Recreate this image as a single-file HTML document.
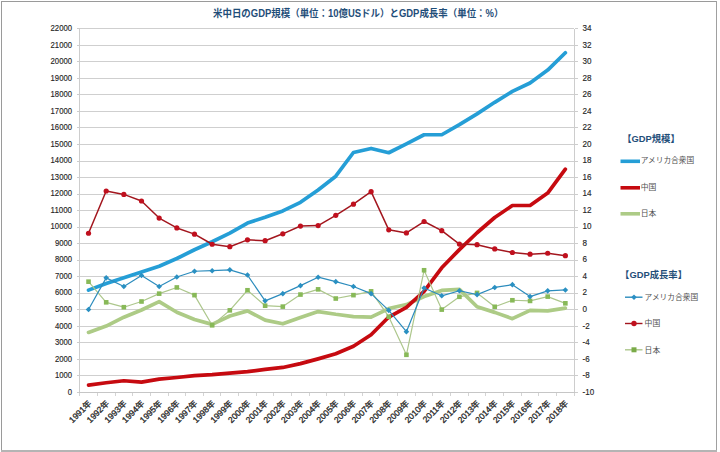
<!DOCTYPE html>
<html lang="ja"><head><meta charset="utf-8"><title>米中日のGDP規模とGDP成長率</title>
<style>html,body{margin:0;padding:0;background:#fff;}body{width:720px;height:452px;overflow:hidden;}svg{display:block;}text{font-family:"Liberation Sans", "Noto Sans CJK JP", sans-serif;}</style></head><body>
<svg width="720" height="452" viewBox="0 0 720 452">
<rect x="0" y="0" width="720" height="452" fill="#fff"/>
<g shape-rendering="crispEdges">
<rect x="1" y="1" width="716" height="1" fill="#9a9a9a"/>
<rect x="1" y="1" width="1" height="450" fill="#9a9a9a"/>
<rect x="716" y="1" width="1" height="450" fill="#a0a0a0"/>
<rect x="1" y="450" width="716" height="2" fill="#b4b4b4"/>
</g>
<text x="358.2" y="17.4" text-anchor="middle" font-size="10" font-weight="bold" fill="#1f4e79" textLength="290.4" lengthAdjust="spacingAndGlyphs">米中日のGDP規模（単位：10億USドル）とGDP成長率（単位：%）</text>
<g stroke="#cfcfcf" stroke-width="1" shape-rendering="crispEdges">
<line x1="79.7" y1="375.5" x2="574.2" y2="375.5"/>
<line x1="79.7" y1="359.5" x2="574.2" y2="359.5"/>
<line x1="79.7" y1="342.5" x2="574.2" y2="342.5"/>
<line x1="79.7" y1="326.5" x2="574.2" y2="326.5"/>
<line x1="79.7" y1="309.5" x2="574.2" y2="309.5"/>
<line x1="79.7" y1="293.5" x2="574.2" y2="293.5"/>
<line x1="79.7" y1="276.5" x2="574.2" y2="276.5"/>
<line x1="79.7" y1="260.5" x2="574.2" y2="260.5"/>
<line x1="79.7" y1="243.5" x2="574.2" y2="243.5"/>
<line x1="79.7" y1="227.5" x2="574.2" y2="227.5"/>
<line x1="79.7" y1="210.5" x2="574.2" y2="210.5"/>
<line x1="79.7" y1="194.5" x2="574.2" y2="194.5"/>
<line x1="79.7" y1="177.5" x2="574.2" y2="177.5"/>
<line x1="79.7" y1="161.5" x2="574.2" y2="161.5"/>
<line x1="79.7" y1="144.5" x2="574.2" y2="144.5"/>
<line x1="79.7" y1="127.5" x2="574.2" y2="127.5"/>
<line x1="79.7" y1="111.5" x2="574.2" y2="111.5"/>
<line x1="79.7" y1="94.5" x2="574.2" y2="94.5"/>
<line x1="79.7" y1="78.5" x2="574.2" y2="78.5"/>
<line x1="79.7" y1="61.5" x2="574.2" y2="61.5"/>
<line x1="79.7" y1="45.5" x2="574.2" y2="45.5"/>
<line x1="79.7" y1="28.5" x2="574.2" y2="28.5"/>
</g>
<g stroke="#cdcdcd" stroke-width="1" shape-rendering="crispEdges">
<line x1="79.5" y1="28.5" x2="79.5" y2="392.5"/>
<line x1="574.5" y1="28.5" x2="574.5" y2="392.5"/>
<line x1="76.5" y1="392.5" x2="79.5" y2="392.5"/>
<line x1="574.5" y1="392.5" x2="577.5" y2="392.5"/>
<line x1="76.5" y1="375.5" x2="79.5" y2="375.5"/>
<line x1="574.5" y1="375.5" x2="577.5" y2="375.5"/>
<line x1="76.5" y1="359.5" x2="79.5" y2="359.5"/>
<line x1="574.5" y1="359.5" x2="577.5" y2="359.5"/>
<line x1="76.5" y1="342.5" x2="79.5" y2="342.5"/>
<line x1="574.5" y1="342.5" x2="577.5" y2="342.5"/>
<line x1="76.5" y1="326.5" x2="79.5" y2="326.5"/>
<line x1="574.5" y1="326.5" x2="577.5" y2="326.5"/>
<line x1="76.5" y1="309.5" x2="79.5" y2="309.5"/>
<line x1="574.5" y1="309.5" x2="577.5" y2="309.5"/>
<line x1="76.5" y1="293.5" x2="79.5" y2="293.5"/>
<line x1="574.5" y1="293.5" x2="577.5" y2="293.5"/>
<line x1="76.5" y1="276.5" x2="79.5" y2="276.5"/>
<line x1="574.5" y1="276.5" x2="577.5" y2="276.5"/>
<line x1="76.5" y1="260.5" x2="79.5" y2="260.5"/>
<line x1="574.5" y1="260.5" x2="577.5" y2="260.5"/>
<line x1="76.5" y1="243.5" x2="79.5" y2="243.5"/>
<line x1="574.5" y1="243.5" x2="577.5" y2="243.5"/>
<line x1="76.5" y1="227.5" x2="79.5" y2="227.5"/>
<line x1="574.5" y1="227.5" x2="577.5" y2="227.5"/>
<line x1="76.5" y1="210.5" x2="79.5" y2="210.5"/>
<line x1="574.5" y1="210.5" x2="577.5" y2="210.5"/>
<line x1="76.5" y1="194.5" x2="79.5" y2="194.5"/>
<line x1="574.5" y1="194.5" x2="577.5" y2="194.5"/>
<line x1="76.5" y1="177.5" x2="79.5" y2="177.5"/>
<line x1="574.5" y1="177.5" x2="577.5" y2="177.5"/>
<line x1="76.5" y1="161.5" x2="79.5" y2="161.5"/>
<line x1="574.5" y1="161.5" x2="577.5" y2="161.5"/>
<line x1="76.5" y1="144.5" x2="79.5" y2="144.5"/>
<line x1="574.5" y1="144.5" x2="577.5" y2="144.5"/>
<line x1="76.5" y1="127.5" x2="79.5" y2="127.5"/>
<line x1="574.5" y1="127.5" x2="577.5" y2="127.5"/>
<line x1="76.5" y1="111.5" x2="79.5" y2="111.5"/>
<line x1="574.5" y1="111.5" x2="577.5" y2="111.5"/>
<line x1="76.5" y1="94.5" x2="79.5" y2="94.5"/>
<line x1="574.5" y1="94.5" x2="577.5" y2="94.5"/>
<line x1="76.5" y1="78.5" x2="79.5" y2="78.5"/>
<line x1="574.5" y1="78.5" x2="577.5" y2="78.5"/>
<line x1="76.5" y1="61.5" x2="79.5" y2="61.5"/>
<line x1="574.5" y1="61.5" x2="577.5" y2="61.5"/>
<line x1="76.5" y1="45.5" x2="79.5" y2="45.5"/>
<line x1="574.5" y1="45.5" x2="577.5" y2="45.5"/>
<line x1="76.5" y1="28.5" x2="79.5" y2="28.5"/>
<line x1="574.5" y1="28.5" x2="577.5" y2="28.5"/>
</g>
<g stroke="#c6c6c6" stroke-width="1" shape-rendering="crispEdges">
<line x1="79" y1="392.5" x2="575" y2="392.5"/>
</g><g stroke="#d4d4d4" stroke-width="1" shape-rendering="crispEdges">
<line x1="79.5" y1="393.0" x2="79.5" y2="395.5"/>
<line x1="97.5" y1="393.0" x2="97.5" y2="395.5"/>
<line x1="115.5" y1="393.0" x2="115.5" y2="395.5"/>
<line x1="132.5" y1="393.0" x2="132.5" y2="395.5"/>
<line x1="150.5" y1="393.0" x2="150.5" y2="395.5"/>
<line x1="168.5" y1="393.0" x2="168.5" y2="395.5"/>
<line x1="185.5" y1="393.0" x2="185.5" y2="395.5"/>
<line x1="203.5" y1="393.0" x2="203.5" y2="395.5"/>
<line x1="220.5" y1="393.0" x2="220.5" y2="395.5"/>
<line x1="238.5" y1="393.0" x2="238.5" y2="395.5"/>
<line x1="256.5" y1="393.0" x2="256.5" y2="395.5"/>
<line x1="273.5" y1="393.0" x2="273.5" y2="395.5"/>
<line x1="291.5" y1="393.0" x2="291.5" y2="395.5"/>
<line x1="309.5" y1="393.0" x2="309.5" y2="395.5"/>
<line x1="326.5" y1="393.0" x2="326.5" y2="395.5"/>
<line x1="344.5" y1="393.0" x2="344.5" y2="395.5"/>
<line x1="362.5" y1="393.0" x2="362.5" y2="395.5"/>
<line x1="379.5" y1="393.0" x2="379.5" y2="395.5"/>
<line x1="397.5" y1="393.0" x2="397.5" y2="395.5"/>
<line x1="415.5" y1="393.0" x2="415.5" y2="395.5"/>
<line x1="432.5" y1="393.0" x2="432.5" y2="395.5"/>
<line x1="450.5" y1="393.0" x2="450.5" y2="395.5"/>
<line x1="468.5" y1="393.0" x2="468.5" y2="395.5"/>
<line x1="485.5" y1="393.0" x2="485.5" y2="395.5"/>
<line x1="503.5" y1="393.0" x2="503.5" y2="395.5"/>
<line x1="521.5" y1="393.0" x2="521.5" y2="395.5"/>
<line x1="538.5" y1="393.0" x2="538.5" y2="395.5"/>
<line x1="556.5" y1="393.0" x2="556.5" y2="395.5"/>
<line x1="574.5" y1="393.0" x2="574.5" y2="395.5"/>
</g>
<g font-size="8.9" fill="#262626" stroke="#262626" stroke-width="0.15" text-anchor="end">
<text x="72" y="394.6" textLength="4.3" lengthAdjust="spacingAndGlyphs">0</text>
<text x="72" y="378.1" textLength="17.1" lengthAdjust="spacingAndGlyphs">1000</text>
<text x="72" y="361.5" textLength="17.1" lengthAdjust="spacingAndGlyphs">2000</text>
<text x="72" y="345.0" textLength="17.1" lengthAdjust="spacingAndGlyphs">3000</text>
<text x="72" y="328.5" textLength="17.1" lengthAdjust="spacingAndGlyphs">4000</text>
<text x="72" y="312.0" textLength="17.1" lengthAdjust="spacingAndGlyphs">5000</text>
<text x="72" y="295.4" textLength="17.1" lengthAdjust="spacingAndGlyphs">6000</text>
<text x="72" y="278.9" textLength="17.1" lengthAdjust="spacingAndGlyphs">7000</text>
<text x="72" y="262.4" textLength="17.1" lengthAdjust="spacingAndGlyphs">8000</text>
<text x="72" y="245.9" textLength="17.1" lengthAdjust="spacingAndGlyphs">9000</text>
<text x="72" y="229.3" textLength="21.4" lengthAdjust="spacingAndGlyphs">10000</text>
<text x="72" y="212.8" textLength="21.4" lengthAdjust="spacingAndGlyphs">11000</text>
<text x="72" y="196.3" textLength="21.4" lengthAdjust="spacingAndGlyphs">12000</text>
<text x="72" y="179.7" textLength="21.4" lengthAdjust="spacingAndGlyphs">13000</text>
<text x="72" y="163.2" textLength="21.4" lengthAdjust="spacingAndGlyphs">14000</text>
<text x="72" y="146.7" textLength="21.4" lengthAdjust="spacingAndGlyphs">15000</text>
<text x="72" y="130.2" textLength="21.4" lengthAdjust="spacingAndGlyphs">16000</text>
<text x="72" y="113.6" textLength="21.4" lengthAdjust="spacingAndGlyphs">17000</text>
<text x="72" y="97.1" textLength="21.4" lengthAdjust="spacingAndGlyphs">18000</text>
<text x="72" y="80.6" textLength="21.4" lengthAdjust="spacingAndGlyphs">19000</text>
<text x="72" y="64.1" textLength="21.4" lengthAdjust="spacingAndGlyphs">20000</text>
<text x="72" y="47.5" textLength="21.4" lengthAdjust="spacingAndGlyphs">21000</text>
<text x="72" y="31.0" textLength="21.4" lengthAdjust="spacingAndGlyphs">22000</text>
</g>
<g font-size="8.9" fill="#262626" stroke="#262626" stroke-width="0.15">
<text x="582.6" y="394.6" textLength="11.6" lengthAdjust="spacingAndGlyphs">-10</text>
<text x="582.6" y="378.1" textLength="7.1" lengthAdjust="spacingAndGlyphs">-8</text>
<text x="582.6" y="361.5" textLength="7.1" lengthAdjust="spacingAndGlyphs">-6</text>
<text x="582.6" y="345.0" textLength="7.1" lengthAdjust="spacingAndGlyphs">-4</text>
<text x="582.6" y="328.5" textLength="7.1" lengthAdjust="spacingAndGlyphs">-2</text>
<text x="582.6" y="312.0" textLength="4.5" lengthAdjust="spacingAndGlyphs">0</text>
<text x="582.6" y="295.4" textLength="4.5" lengthAdjust="spacingAndGlyphs">2</text>
<text x="582.6" y="278.9" textLength="4.5" lengthAdjust="spacingAndGlyphs">4</text>
<text x="582.6" y="262.4" textLength="4.5" lengthAdjust="spacingAndGlyphs">6</text>
<text x="582.6" y="245.9" textLength="4.5" lengthAdjust="spacingAndGlyphs">8</text>
<text x="582.6" y="229.3" textLength="9.0" lengthAdjust="spacingAndGlyphs">10</text>
<text x="582.6" y="212.8" textLength="9.0" lengthAdjust="spacingAndGlyphs">12</text>
<text x="582.6" y="196.3" textLength="9.0" lengthAdjust="spacingAndGlyphs">14</text>
<text x="582.6" y="179.7" textLength="9.0" lengthAdjust="spacingAndGlyphs">16</text>
<text x="582.6" y="163.2" textLength="9.0" lengthAdjust="spacingAndGlyphs">18</text>
<text x="582.6" y="146.7" textLength="9.0" lengthAdjust="spacingAndGlyphs">20</text>
<text x="582.6" y="130.2" textLength="9.0" lengthAdjust="spacingAndGlyphs">22</text>
<text x="582.6" y="113.6" textLength="9.0" lengthAdjust="spacingAndGlyphs">24</text>
<text x="582.6" y="97.1" textLength="9.0" lengthAdjust="spacingAndGlyphs">26</text>
<text x="582.6" y="80.6" textLength="9.0" lengthAdjust="spacingAndGlyphs">28</text>
<text x="582.6" y="64.1" textLength="9.0" lengthAdjust="spacingAndGlyphs">30</text>
<text x="582.6" y="47.5" textLength="9.0" lengthAdjust="spacingAndGlyphs">32</text>
<text x="582.6" y="31.0" textLength="9.0" lengthAdjust="spacingAndGlyphs">34</text>
</g>
<g font-size="8.5" fill="#262626" stroke="#262626" stroke-width="0.3" text-anchor="end">
<text x="92.0" y="404.0" transform="rotate(-45 92.0 404.0)">1991年</text>
<text x="109.7" y="404.0" transform="rotate(-45 109.7 404.0)">1992年</text>
<text x="127.4" y="404.0" transform="rotate(-45 127.4 404.0)">1993年</text>
<text x="145.0" y="404.0" transform="rotate(-45 145.0 404.0)">1994年</text>
<text x="162.7" y="404.0" transform="rotate(-45 162.7 404.0)">1995年</text>
<text x="180.3" y="404.0" transform="rotate(-45 180.3 404.0)">1996年</text>
<text x="198.0" y="404.0" transform="rotate(-45 198.0 404.0)">1997年</text>
<text x="215.7" y="404.0" transform="rotate(-45 215.7 404.0)">1998年</text>
<text x="233.3" y="404.0" transform="rotate(-45 233.3 404.0)">1999年</text>
<text x="251.0" y="404.0" transform="rotate(-45 251.0 404.0)">2000年</text>
<text x="268.6" y="404.0" transform="rotate(-45 268.6 404.0)">2001年</text>
<text x="286.3" y="404.0" transform="rotate(-45 286.3 404.0)">2002年</text>
<text x="304.0" y="404.0" transform="rotate(-45 304.0 404.0)">2003年</text>
<text x="321.6" y="404.0" transform="rotate(-45 321.6 404.0)">2004年</text>
<text x="339.3" y="404.0" transform="rotate(-45 339.3 404.0)">2005年</text>
<text x="356.9" y="404.0" transform="rotate(-45 356.9 404.0)">2006年</text>
<text x="374.6" y="404.0" transform="rotate(-45 374.6 404.0)">2007年</text>
<text x="392.3" y="404.0" transform="rotate(-45 392.3 404.0)">2008年</text>
<text x="409.9" y="404.0" transform="rotate(-45 409.9 404.0)">2009年</text>
<text x="427.6" y="404.0" transform="rotate(-45 427.6 404.0)">2010年</text>
<text x="445.2" y="404.0" transform="rotate(-45 445.2 404.0)">2011年</text>
<text x="462.9" y="404.0" transform="rotate(-45 462.9 404.0)">2012年</text>
<text x="480.6" y="404.0" transform="rotate(-45 480.6 404.0)">2013年</text>
<text x="498.2" y="404.0" transform="rotate(-45 498.2 404.0)">2014年</text>
<text x="515.9" y="404.0" transform="rotate(-45 515.9 404.0)">2015年</text>
<text x="533.5" y="404.0" transform="rotate(-45 533.5 404.0)">2016年</text>
<text x="551.2" y="404.0" transform="rotate(-45 551.2 404.0)">2017年</text>
<text x="568.9" y="404.0" transform="rotate(-45 568.9 404.0)">2018年</text>
</g>
<g fill="none" stroke-width="3.7" stroke-linejoin="round" stroke-linecap="round">
<polyline points="88.53,332.41 106.19,326.09 123.85,317.18 141.51,309.96 159.17,301.65 176.83,312.28 194.49,319.48 212.16,324.39 229.82,315.98 247.48,310.87 265.14,320.08 282.80,323.78 300.46,317.48 318.12,311.58 335.78,314.28 353.44,316.57 371.10,317.17 388.76,308.56 406.42,304.56 424.08,296.49 441.74,290.43 459.41,289.44 477.07,306.79 494.73,312.37 512.39,318.67 530.05,310.36 547.71,310.87 565.37,308.06" stroke="#adcb86"/>
<polyline points="88.53,385.09 106.19,382.78 123.85,380.78 141.51,382.19 159.17,379.08 176.83,377.53 194.49,375.71 212.16,374.63 229.82,373.15 247.48,371.58 265.14,369.43 282.80,367.44 300.46,363.64 318.12,358.85 335.78,353.73 353.44,346.29 371.10,334.70 388.76,317.04 406.42,307.28 424.08,291.42 441.74,267.78 459.41,249.60 477.07,232.75 494.73,217.51 512.39,205.49 530.05,205.49 547.71,193.08 565.37,169.13" stroke="#c60a10"/>
<polyline points="88.53,290.13 106.19,283.52 123.85,277.72 141.51,272.00 159.17,266.20 176.83,258.53 194.49,249.77 212.16,241.75 229.82,233.04 247.48,223.03 265.14,217.21 282.80,210.90 300.46,202.29 318.12,189.94 335.78,176.22 353.44,152.51 371.10,148.46 388.76,152.75 406.42,143.83 424.08,134.74 441.74,134.74 459.41,124.66 477.07,113.83 494.73,102.31 512.39,91.41 530.05,82.99 547.71,70.07 565.37,52.75" stroke="#259ed6"/>
</g>
<g fill="none" stroke-width="1.2" stroke-linejoin="round">
<polyline points="88.53,281.67 106.19,302.33 123.85,307.20 141.51,301.50 159.17,293.65 176.83,287.45 194.49,295.14 212.16,325.30 229.82,310.34 247.48,290.26 265.14,305.71 282.80,306.62 300.46,294.56 318.12,289.35 335.78,298.53 353.44,295.14 371.10,291.34 388.76,316.71 406.42,354.80 424.08,270.26 441.74,309.60 459.41,296.79 477.07,292.91 494.73,306.79 512.39,300.26 530.05,300.92 547.71,296.62 565.37,303.32" stroke="#adc78c"/>
<polyline points="88.53,233.24 106.19,191.02 123.85,194.40 141.51,201.01 159.17,218.04 176.83,227.95 194.49,234.15 212.16,244.23 229.82,246.71 247.48,239.85 265.14,240.68 282.80,233.82 300.46,226.05 318.12,225.56 335.78,215.31 353.44,204.15 371.10,191.68 388.76,229.85 406.42,232.91 424.08,221.51 441.74,230.68 459.41,244.07 477.07,244.65 494.73,248.94 512.39,252.50 530.05,254.15 547.71,253.24 565.37,255.72" stroke="#a3161e" stroke-width="1.5"/>
<polyline points="88.53,309.43 106.19,277.87 123.85,286.54 141.51,275.55 159.17,286.54 176.83,277.04 194.49,271.26 212.16,270.68 229.82,269.85 247.48,275.06 265.14,300.84 282.80,293.65 300.46,285.63 318.12,277.20 335.78,281.67 353.44,286.54 371.10,293.65 388.76,310.34 406.42,331.66 424.08,287.95 441.74,295.80 459.41,290.76 477.07,294.64 494.73,287.45 512.39,284.64 530.05,296.62 547.71,290.84 565.37,289.93" stroke="#2c8cbd"/>
</g>
<g fill="#88b958">
<rect x="86.23" y="279.37" width="4.6" height="4.6"/>
<rect x="103.89" y="300.03" width="4.6" height="4.6"/>
<rect x="121.55" y="304.90" width="4.6" height="4.6"/>
<rect x="139.21" y="299.20" width="4.6" height="4.6"/>
<rect x="156.87" y="291.35" width="4.6" height="4.6"/>
<rect x="174.53" y="285.15" width="4.6" height="4.6"/>
<rect x="192.19" y="292.84" width="4.6" height="4.6"/>
<rect x="209.86" y="323.00" width="4.6" height="4.6"/>
<rect x="227.52" y="308.04" width="4.6" height="4.6"/>
<rect x="245.18" y="287.96" width="4.6" height="4.6"/>
<rect x="262.84" y="303.41" width="4.6" height="4.6"/>
<rect x="280.50" y="304.32" width="4.6" height="4.6"/>
<rect x="298.16" y="292.26" width="4.6" height="4.6"/>
<rect x="315.82" y="287.05" width="4.6" height="4.6"/>
<rect x="333.48" y="296.23" width="4.6" height="4.6"/>
<rect x="351.14" y="292.84" width="4.6" height="4.6"/>
<rect x="368.80" y="289.04" width="4.6" height="4.6"/>
<rect x="386.46" y="314.41" width="4.6" height="4.6"/>
<rect x="404.12" y="352.50" width="4.6" height="4.6"/>
<rect x="421.78" y="267.96" width="4.6" height="4.6"/>
<rect x="439.44" y="307.30" width="4.6" height="4.6"/>
<rect x="457.11" y="294.49" width="4.6" height="4.6"/>
<rect x="474.77" y="290.61" width="4.6" height="4.6"/>
<rect x="492.43" y="304.49" width="4.6" height="4.6"/>
<rect x="510.09" y="297.96" width="4.6" height="4.6"/>
<rect x="527.75" y="298.62" width="4.6" height="4.6"/>
<rect x="545.41" y="294.32" width="4.6" height="4.6"/>
<rect x="563.07" y="301.02" width="4.6" height="4.6"/>
</g>
<g fill="#c0101e">
<circle cx="88.53" cy="233.24" r="2.6"/>
<circle cx="106.19" cy="191.02" r="2.6"/>
<circle cx="123.85" cy="194.40" r="2.6"/>
<circle cx="141.51" cy="201.01" r="2.6"/>
<circle cx="159.17" cy="218.04" r="2.6"/>
<circle cx="176.83" cy="227.95" r="2.6"/>
<circle cx="194.49" cy="234.15" r="2.6"/>
<circle cx="212.16" cy="244.23" r="2.6"/>
<circle cx="229.82" cy="246.71" r="2.6"/>
<circle cx="247.48" cy="239.85" r="2.6"/>
<circle cx="265.14" cy="240.68" r="2.6"/>
<circle cx="282.80" cy="233.82" r="2.6"/>
<circle cx="300.46" cy="226.05" r="2.6"/>
<circle cx="318.12" cy="225.56" r="2.6"/>
<circle cx="335.78" cy="215.31" r="2.6"/>
<circle cx="353.44" cy="204.15" r="2.6"/>
<circle cx="371.10" cy="191.68" r="2.6"/>
<circle cx="388.76" cy="229.85" r="2.6"/>
<circle cx="406.42" cy="232.91" r="2.6"/>
<circle cx="424.08" cy="221.51" r="2.6"/>
<circle cx="441.74" cy="230.68" r="2.6"/>
<circle cx="459.41" cy="244.07" r="2.6"/>
<circle cx="477.07" cy="244.65" r="2.6"/>
<circle cx="494.73" cy="248.94" r="2.6"/>
<circle cx="512.39" cy="252.50" r="2.6"/>
<circle cx="530.05" cy="254.15" r="2.6"/>
<circle cx="547.71" cy="253.24" r="2.6"/>
<circle cx="565.37" cy="255.72" r="2.6"/>
</g>
<g fill="#2a90c2">
<path d="M88.53 306.63L91.33 309.43L88.53 312.23L85.73 309.43Z"/>
<path d="M106.19 275.07L108.99 277.87L106.19 280.67L103.39 277.87Z"/>
<path d="M123.85 283.74L126.65 286.54L123.85 289.34L121.05 286.54Z"/>
<path d="M141.51 272.75L144.31 275.55L141.51 278.35L138.71 275.55Z"/>
<path d="M159.17 283.74L161.97 286.54L159.17 289.34L156.37 286.54Z"/>
<path d="M176.83 274.24L179.63 277.04L176.83 279.84L174.03 277.04Z"/>
<path d="M194.49 268.46L197.29 271.26L194.49 274.06L191.69 271.26Z"/>
<path d="M212.16 267.88L214.96 270.68L212.16 273.48L209.36 270.68Z"/>
<path d="M229.82 267.05L232.62 269.85L229.82 272.65L227.02 269.85Z"/>
<path d="M247.48 272.26L250.28 275.06L247.48 277.86L244.68 275.06Z"/>
<path d="M265.14 298.04L267.94 300.84L265.14 303.64L262.34 300.84Z"/>
<path d="M282.80 290.85L285.60 293.65L282.80 296.45L280.00 293.65Z"/>
<path d="M300.46 282.83L303.26 285.63L300.46 288.43L297.66 285.63Z"/>
<path d="M318.12 274.40L320.92 277.20L318.12 280.00L315.32 277.20Z"/>
<path d="M335.78 278.87L338.58 281.67L335.78 284.47L332.98 281.67Z"/>
<path d="M353.44 283.74L356.24 286.54L353.44 289.34L350.64 286.54Z"/>
<path d="M371.10 290.85L373.90 293.65L371.10 296.45L368.30 293.65Z"/>
<path d="M388.76 307.54L391.56 310.34L388.76 313.14L385.96 310.34Z"/>
<path d="M406.42 328.86L409.22 331.66L406.42 334.46L403.62 331.66Z"/>
<path d="M424.08 285.15L426.88 287.95L424.08 290.75L421.28 287.95Z"/>
<path d="M441.74 293.00L444.54 295.80L441.74 298.60L438.94 295.80Z"/>
<path d="M459.41 287.96L462.21 290.76L459.41 293.56L456.61 290.76Z"/>
<path d="M477.07 291.84L479.87 294.64L477.07 297.44L474.27 294.64Z"/>
<path d="M494.73 284.65L497.53 287.45L494.73 290.25L491.93 287.45Z"/>
<path d="M512.39 281.84L515.19 284.64L512.39 287.44L509.59 284.64Z"/>
<path d="M530.05 293.82L532.85 296.62L530.05 299.42L527.25 296.62Z"/>
<path d="M547.71 288.04L550.51 290.84L547.71 293.64L544.91 290.84Z"/>
<path d="M565.37 287.13L568.17 289.93L565.37 292.73L562.57 289.93Z"/>
</g>
<g font-size="9.35" font-weight="bold" fill="#1f4e79">
<text x="622.2" y="142">【GDP規模】</text>
<text x="620.1" y="277.9">【GDP成長率】</text>
</g>
<g stroke-width="3.6" stroke-linecap="butt">
<line x1="620.5" y1="161.3" x2="640" y2="161.3" stroke="#259ed6"/>
<line x1="620.5" y1="187.8" x2="640" y2="187.8" stroke="#c60a10"/>
<line x1="620.5" y1="213.8" x2="640" y2="213.8" stroke="#adcb86"/>
</g>
<g stroke-width="1.4">
<line x1="625" y1="297.2" x2="642.5" y2="297.2" stroke="#2c8cbd"/>
<line x1="625" y1="323.5" x2="642.5" y2="323.5" stroke="#a3161e"/>
<line x1="625" y1="349.8" x2="642.5" y2="349.8" stroke="#adc78c"/>
</g>
<path d="M634 294.4L636.8 297.2L634 300L631.2 297.2Z" fill="#2a8fc4"/>
<circle cx="634" cy="323.5" r="2.7" fill="#c0101e"/>
<rect x="631.5" y="347.3" width="5" height="5" fill="#7aab48"/>
<g font-size="7.8" fill="#505050">
<text x="640.7" y="163.4" textLength="53.5" lengthAdjust="spacingAndGlyphs">アメリカ合衆国</text>
<text x="640.7" y="189.9">中国</text>
<text x="640.7" y="215.9">日本</text>
<text x="644.6" y="300.1" textLength="53.5" lengthAdjust="spacingAndGlyphs">アメリカ合衆国</text>
<text x="644.6" y="326.4">中国</text>
<text x="644.6" y="352.7">日本</text>
</g>
</svg></body></html>
